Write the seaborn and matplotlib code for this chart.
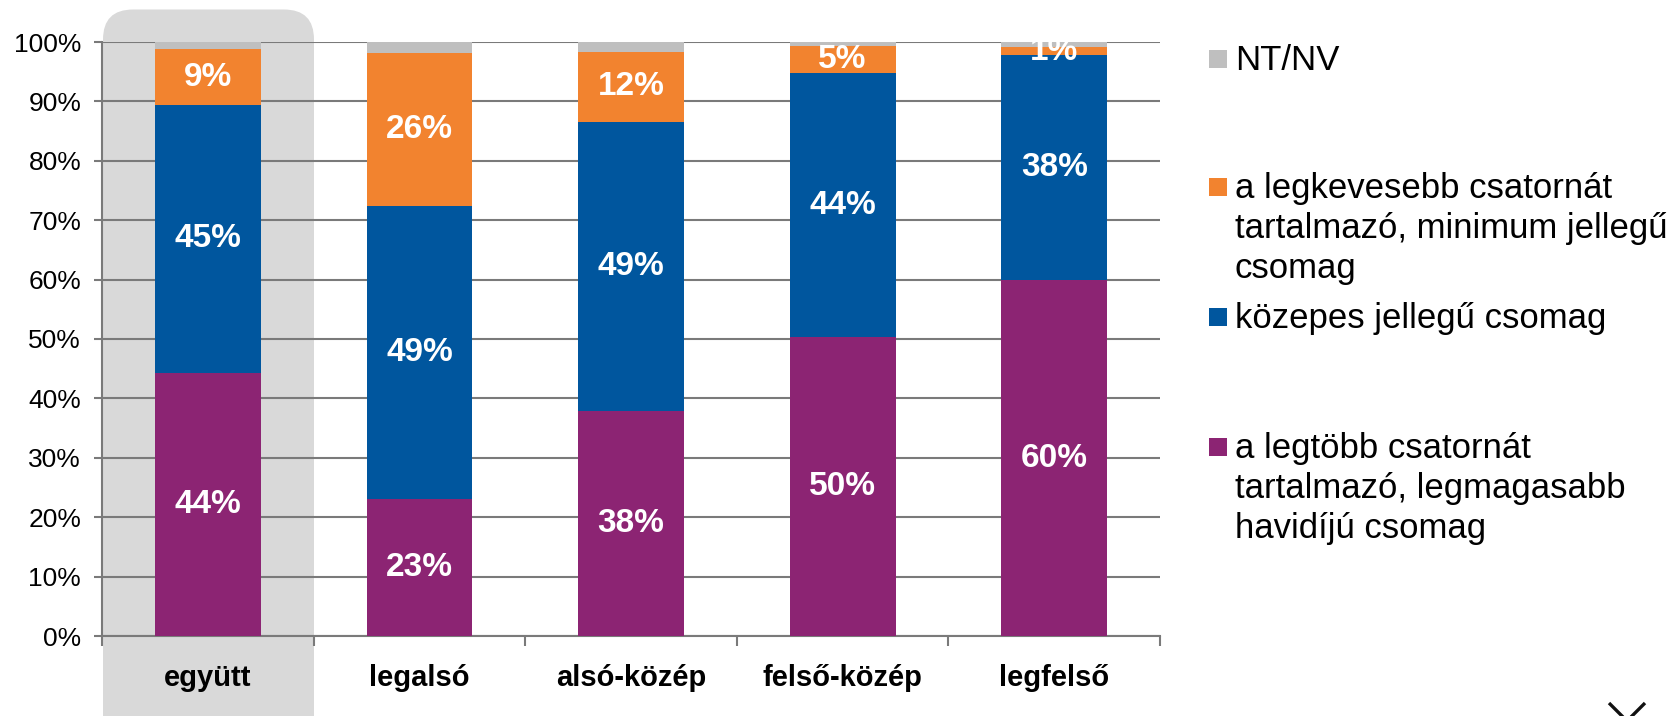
import matplotlib
matplotlib.use("Agg")
import matplotlib.pyplot as plt
from matplotlib.patches import FancyBboxPatch, Rectangle
from matplotlib.lines import Line2D
from matplotlib.transforms import IdentityTransform
from matplotlib.ticker import FixedLocator
import numpy as np
import pandas as pd
import seaborn as sns

# Income groups and package-choice shares (percent)
categories = ["együtt", "legalsó", "alsó-közép", "felső-közép", "legfelső"]
legtobb = [44.3, 23.1, 37.8, 50.4, 59.9]      # most channels, highest fee
kozepes = [45.1, 49.3, 48.8, 44.3, 37.9]      # mid-range package
legkevesebb = [9.4, 25.8, 11.8, 4.6, 1.3]     # fewest channels, minimum package
nt_nv = [1.2, 1.8, 1.6, 0.7, 0.9]             # don't know / no answer

series_names = [
    "a legtöbb csatornát\ntartalmazó, legmagasabb\nhavidíjú csomag",
    "közepes jellegű csomag",
    "a legkevesebb csatornát\ntartalmazó, minimum jellegű\ncsomag",
    "NT/NV",
]
series_values = [legtobb, kozepes, legkevesebb, nt_nv]
series_colors = ["#8C2473", "#00569E", "#F2832F", "#BFBFBF"]
y_ticks = list(range(0, 101, 10))

sns.set_theme(style="white")
plt.rcParams["font.family"] = ["Liberation Sans", "DejaVu Sans"]

W, H = 1668, 716
fig = plt.figure(figsize=(W / 100, H / 100), dpi=100)
ax = fig.add_axes([102 / W, 1 - 636 / H, (1160 - 102) / W, (636 - 42) / H])
ax.patch.set_visible(False)

# long-form table with cumulative stack tops
rows = []
for name, vals in zip(series_names, series_values):
    for cat, v in zip(categories, vals):
        rows.append({"csoport": cat, "sorozat": name, "ertek": v})
df = pd.DataFrame(rows)
df["felso"] = df.groupby("csoport", sort=False)["ertek"].cumsum()

# draw stacks from the top layer down so lower layers overlay the upper ones
for name, color in reversed(list(zip(series_names, series_colors))):
    sub = df[df["sorozat"] == name]
    sns.barplot(data=sub, x="csoport", y="felso", order=categories, color=color,
                saturation=1, width=0.5, errorbar=None, ax=ax, zorder=3,
                linewidth=0)

# value labels inside the coloured segments (not for NT/NV)
for name in series_names[:3]:
    sub = df[df["sorozat"] == name]
    for i, cat in enumerate(categories):
        r = sub[sub["csoport"] == cat].iloc[0]
        ax.text(i, r["felso"] - r["ertek"] / 2, f"{round(r['ertek'])}%",
                ha="center", va="center", color="white", fontsize=24,
                fontweight="bold", zorder=5, clip_on=True)

ax.set_ylim(0, 100)
ax.set_xlim(-0.5, len(categories) - 0.5)
ax.set_yticks(y_ticks)
ax.set_yticklabels([f"{t}%" for t in y_ticks], fontsize=19, color="black")
ax.set_xticks(range(len(categories)))
ax.set_xticklabels(categories, fontsize=21, fontweight="bold", color="black")
ax.xaxis.set_minor_locator(FixedLocator(np.arange(-0.5, len(categories), 1.0)))
ax.set_xlabel("")
ax.set_ylabel("")

grid_col = "#7A7A7A"
ax.set_axisbelow(True)
ax.yaxis.grid(True, color=grid_col, linewidth=1.5, zorder=1)
ax.xaxis.grid(False)
for s in ["top", "right"]:
    ax.spines[s].set_visible(False)
for s in ["left", "bottom"]:
    ax.spines[s].set_color(grid_col)
    ax.spines[s].set_linewidth(1.5)
ax.tick_params(axis="y", which="major", direction="out", length=6, width=1.5,
               color=grid_col, pad=9, left=True)
ax.tick_params(axis="x", which="major", length=0, pad=20)
ax.tick_params(axis="x", which="minor", direction="out", length=7, width=1.5,
               color=grid_col, bottom=True)

# highlight box behind the first group (display pixel coordinates)
hl = FancyBboxPatch((103, -60), 211, 716 - 9.5 + 60,
                    boxstyle="round,pad=0,rounding_size=30",
                    transform=IdentityTransform(), facecolor="#D9D9D9",
                    edgecolor="none", zorder=-1)
fig.add_artist(hl)

# legend drawn by hand: square marker + wrapped label
legend_order = [3, 2, 1, 0]
legend_first_line_y = [59, 187, 317, 447]
for idx, yc in zip(legend_order, legend_first_line_y):
    fig.add_artist(Rectangle((1209, H - yc - 9), 18, 18, transform=IdentityTransform(),
                             facecolor=series_colors[idx], edgecolor="none"))
    fig.text(1235 / W, 1 - (yc - 15) / H, series_names[idx], ha="left", va="top",
             fontsize=25, color="black", linespacing=1.27)

# close mark in the lower-right corner
for xs in ([1609, 1640], [1645, 1614]):
    fig.add_artist(Line2D(xs, [13, -18], transform=IdentityTransform(),
                          color="#111111", linewidth=2.4, solid_capstyle="butt"))

fig.savefig("out.png", dpi=100)
